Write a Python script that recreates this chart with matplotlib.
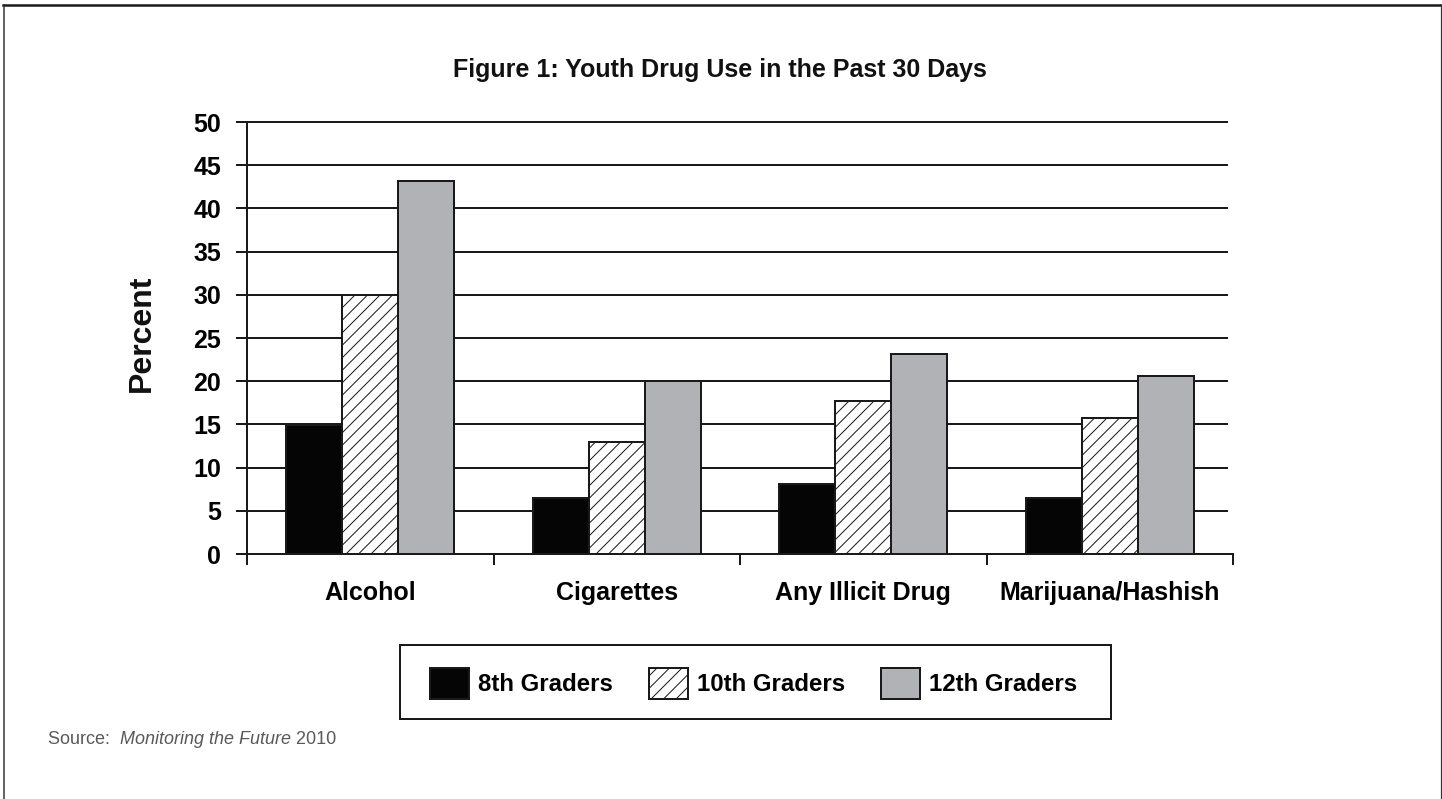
import matplotlib
matplotlib.use("Agg")
import matplotlib.pyplot as plt
from matplotlib.lines import Line2D
from matplotlib.patches import Rectangle
from matplotlib.font_manager import FontProperties
import numpy as np

# ---- data ----
categories = ['Alcohol', 'Cigarettes', 'Any Illicit Drug', 'Marijuana/Hashish']
series_labels = ['8th Graders', '10th Graders', '12th Graders']
grade8 = [14.9, 6.5, 8.1, 6.5]
grade10 = [30.0, 13.0, 17.7, 15.7]
grade12 = [43.2, 20.0, 23.1, 20.6]
yticks = [0, 5, 10, 15, 20, 25, 30, 35, 40, 45, 50]
title = 'Figure 1: Youth Drug Use in the Past 30 Days'
ylabel = 'Percent'

# ---- setup ----
DPI = 75
W, H = 1442, 799
def pt(px):
    return px * 72.0 / DPI

FONT = 'Liberation Sans'
plt.rcParams['font.family'] = [FONT, 'DejaVu Sans']
plt.rcParams['hatch.linewidth'] = pt(1.0)
DARK = '#1a1a1a'

fig = plt.figure(figsize=(W / DPI, H / DPI), dpi=DPI)
fig.patch.set_facecolor('white')

ax = fig.add_axes([247 / W, 1 - 554 / H, (1233 - 247) / W, (554 - 122) / H])

x = np.arange(len(categories))
bw = 0.227
b8 = ax.bar(x - bw, grade8, bw, color='#050505', edgecolor=DARK, linewidth=pt(2), zorder=3)
b10 = ax.bar(x, grade10, bw, color='white', edgecolor=DARK, hatch='//', linewidth=pt(2), zorder=3)
b12 = ax.bar(x + bw, grade12, bw, color='#b1b2b5', edgecolor=DARK, linewidth=pt(2), zorder=3)

ax.set_xlim(-0.5, 3.5)
ax.set_ylim(0, 50)

# gridlines
ax.hlines(yticks[1:], -0.5, 3.48, colors=DARK, linewidth=pt(2), zorder=1, clip_on=False)

for s in ['top', 'right']:
    ax.spines[s].set_visible(False)
for s in ['left', 'bottom']:
    ax.spines[s].set_linewidth(pt(2))
    ax.spines[s].set_color(DARK)

ax.set_yticks(yticks)
ax.set_yticklabels([str(v) for v in yticks])
ax.tick_params(axis='y', direction='out', length=pt(11), width=pt(2), color=DARK,
               pad=pt(15), labelsize=pt(25))
for lab in ax.get_yticklabels():
    lab.set_fontweight('bold')

ax.set_xticks(x)
ax.set_xticklabels(categories)
ax.set_xticks(np.arange(-0.5, len(categories)), minor=True)
ax.tick_params(axis='x', which='major', length=0, pad=pt(27), labelsize=pt(25))
ax.tick_params(axis='x', which='minor', direction='out', length=pt(11), width=pt(2), color=DARK)
for lab in ax.get_xticklabels():
    lab.set_fontweight('bold')

# title and y label
fig.text(720 / W, 1 - 77 / H, title, ha='center', va='baseline',
         fontsize=pt(25), fontweight='bold', color='#111111')
fig.text(142 / W, 1 - 333 / H, ylabel, rotation=90, ha='center', va='center',
         fontsize=pt(32), fontweight='bold', color='#111111')

# legend
prop = FontProperties(family=FONT, weight='bold', size=pt(24))
fs = 24.0
fig.legend(handles=[b8, b10, b12], labels=series_labels, ncol=3, loc='center left',
           bbox_to_anchor=(430 / W, 1 - 683.5 / H), frameon=False, borderpad=0,
           borderaxespad=0, handlelength=39 / fs, handleheight=39 / fs,
           handletextpad=9 / fs, columnspacing=36 / fs, prop=prop)
fig.add_artist(Rectangle((400 / W, 1 - 719 / H), 711 / W, 74 / H, transform=fig.transFigure,
                         fill=False, edgecolor=DARK, linewidth=pt(2)))

# source line
r = fig.canvas.get_renderer()
sy = 1 - 744 / H
src_col = '#58595b'
src_fs = pt(18)
t1 = fig.text(48 / W, sy, 'Source:  ', fontsize=src_fs, color=src_col, va='baseline')
bb = t1.get_window_extent(r)
t2 = fig.text(bb.x1 / W, sy, 'Monitoring the Future', fontsize=src_fs, color=src_col,
              style='italic', va='baseline')
bb2 = t2.get_window_extent(r)
fig.text(bb2.x1 / W, sy, ' 2010', fontsize=src_fs, color=src_col, va='baseline')

# outer frame (top, left, right)
fig.add_artist(Line2D([3 / W, 1], [1 - 5 / H, 1 - 5 / H], transform=fig.transFigure,
                      color=DARK, linewidth=pt(2.5)))
fig.add_artist(Line2D([4 / W, 4 / W], [0, 1 - 5 / H], transform=fig.transFigure,
                      color='#333333', linewidth=pt(1.5)))
fig.add_artist(Line2D([1440.5 / W, 1440.5 / W], [0, 1 - 5 / H], transform=fig.transFigure,
                      color='#333333', linewidth=pt(1.2)))

fig.savefig('out.png', dpi=DPI, facecolor='white')
